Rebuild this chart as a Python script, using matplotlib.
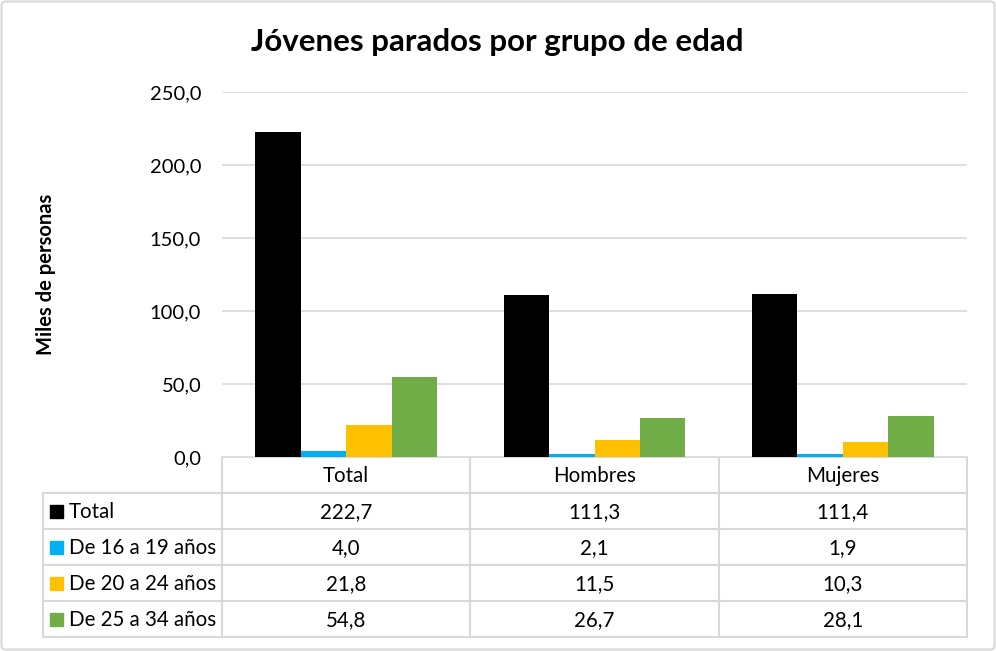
import matplotlib.pyplot as plt
import numpy as np
from matplotlib.patches import FancyBboxPatch, Rectangle

categories = ['Total', 'Hombres', 'Mujeres']
series_names = ['Total', 'De 16 a 19 años', 'De 20 a 24 años', 'De 25 a 34 años']
values = [
    [222.7, 111.3, 111.4],
    [4.0, 2.1, 1.9],
    [21.8, 11.5, 10.3],
    [54.8, 26.7, 28.1],
]
colors = ['#000000', '#00B0F0', '#FFC000', '#70AD47']
yticks = [0, 50, 100, 150, 200, 250]


def fmt(v):
    return f'{v:.1f}'.replace('.', ',')


plt.rcParams['font.family'] = ['Lato', 'DejaVu Sans']

W, H = 996, 651
fig = plt.figure(figsize=(W / 100, H / 100), dpi=100)

# plot area in pixel terms
px_l, px_r, px_t, px_b = 222, 967, 92, 457
ax = fig.add_axes([px_l / W, 1 - px_b / H, (px_r - px_l) / W, (px_b - px_t) / H])

x = np.arange(len(categories))
bw = 0.183
for i, (name, vals) in enumerate(zip(series_names, values)):
    ax.bar(x + (i - 1.5) * bw, vals, width=bw, color=colors[i], zorder=3)

ax.set_xlim(-0.5, len(categories) - 0.5)
ax.set_ylim(0, 250)
ax.set_yticks(yticks)
ax.set_yticklabels([fmt(v) for v in yticks], fontsize=14.5, color='#000000')
ax.tick_params(axis='y', length=0, pad=15)
ax.set_xticks([])
ax.grid(axis='y', color='#D9D9D9', linewidth=1.2, zorder=0)
for s in ax.spines.values():
    s.set_visible(False)

fig.text(46 / W, 1 - 274 / H, 'Miles de personas', rotation=90, fontsize=14.5,
         fontweight='bold', ha='center', va='center')
fig.text(497 / W, 1 - 42 / H, 'Jóvenes parados por grupo de edad', fontsize=22.5,
         fontweight='bold', ha='center', va='center')

# overlay in pixel coordinates for the data table and frame
ov = fig.add_axes([0, 0, 1, 1], zorder=-1)
ov.set_xlim(0, W)
ov.set_ylim(H, 0)
ov.axis('off')

ov.add_patch(FancyBboxPatch((1.5, 1.5), W - 3, H - 3, boxstyle='round,pad=0,rounding_size=4',
                            fill=False, edgecolor='#D9D9D9', linewidth=1.5))

grid_c = '#D9D9D9'
tab_l = 43
row_h = 36
row_y = [px_b + row_h * k for k in range(len(series_names) + 2)]
col_w = (px_r - px_l) / len(categories)
col_x = [px_l + col_w * k for k in range(len(categories) + 1)]

# horizontal lines
ov.plot([px_l, px_r], [row_y[0], row_y[0]], color=grid_c, lw=1.5)
for yy in row_y[1:]:
    ov.plot([tab_l, px_r], [yy, yy], color=grid_c, lw=1.5)
# vertical lines
for xx in col_x:
    ov.plot([xx, xx], [row_y[0], row_y[-1]], color=grid_c, lw=1.5)
ov.plot([tab_l, tab_l], [row_y[1], row_y[-1]], color=grid_c, lw=1.5)

fs = 14.8
for j, cat in enumerate(categories):
    ov.text(px_l + col_w * (j + 0.5), (row_y[0] + row_y[1]) / 2 + 1, cat,
            ha='center', va='center', fontsize=fs)
for i, name in enumerate(series_names):
    yc = (row_y[i + 1] + row_y[i + 2]) / 2
    ov.add_patch(Rectangle((50, yc - 6.5), 13, 13, color=colors[i]))
    ov.text(69, yc + 1, name, ha='left', va='center', fontsize=fs)
    for j, v in enumerate(values[i]):
        ov.text(px_l + col_w * (j + 0.5), yc + 1, fmt(v), ha='center', va='center', fontsize=fs)

fig.savefig('out.png', dpi=100)
